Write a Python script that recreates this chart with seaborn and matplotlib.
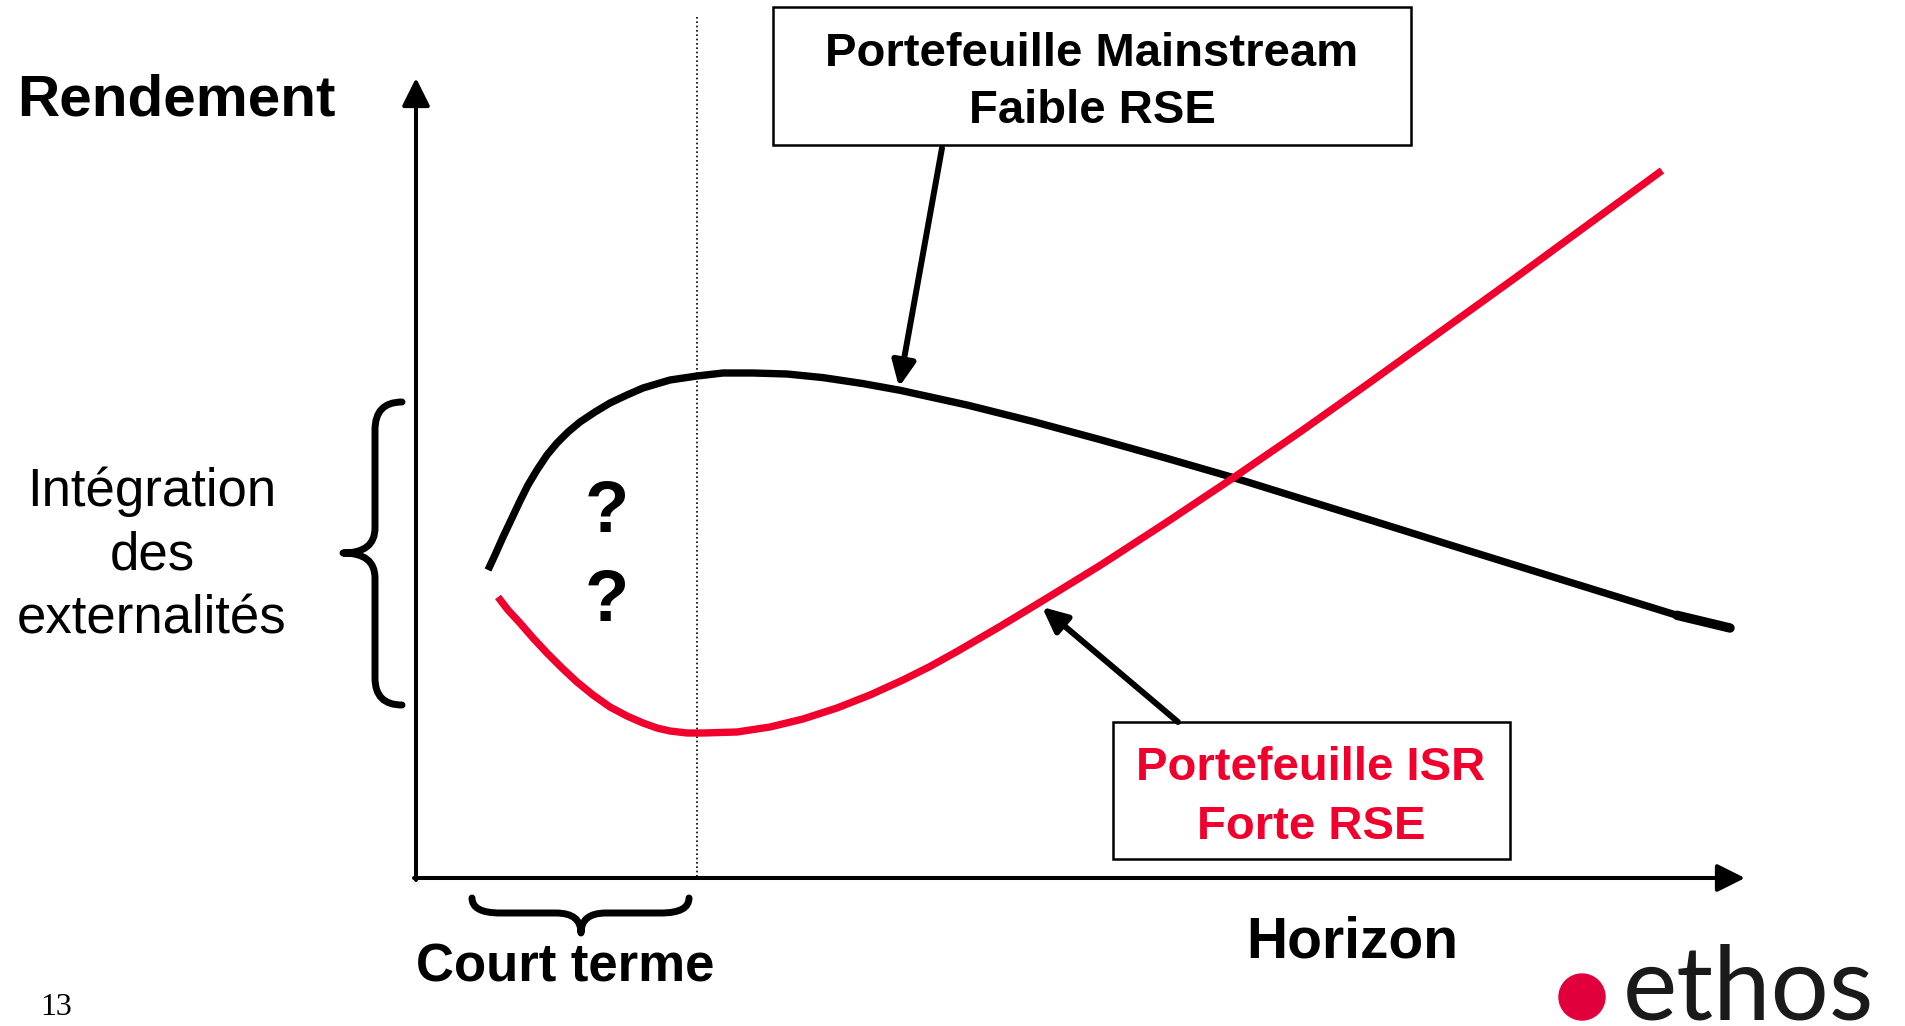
import numpy as np
import pandas as pd
import seaborn as sns
import matplotlib.pyplot as plt
from matplotlib.path import Path
from matplotlib.patches import PathPatch, Rectangle, Circle

# curves (pixel space, y down)
black_x = [488, 495, 503, 512, 520, 528, 537, 547, 557, 568, 580, 595, 610, 627, 643, 670,
           697, 723, 753, 787, 823, 863, 900, 967, 1033, 1100, 1167, 1233, 1300, 1367,
           1447, 1513, 1580, 1677, 1730]
black_y = [570, 555, 537, 518, 501, 485, 470, 455, 443, 432, 422, 412, 403, 395, 388, 380,
           376, 373, 373, 374, 377.6, 383.6, 390.3, 405, 421.5, 439.6, 458.4, 477.5, 498.3,
           519, 544, 564.5, 585.3, 615.3, 628]

red_x = [498, 508, 520, 533, 547, 562, 577, 593, 610, 627, 643, 657, 670, 687, 703, 737,
         770, 803, 837, 870, 903, 930, 957, 1000, 1043, 1100, 1167, 1233, 1300, 1367,
         1447, 1513, 1580, 1662]
red_y = [597, 610, 623, 638, 653, 668, 682, 695, 707, 716, 723, 728, 731, 733, 733, 732,
         727, 719, 708, 695, 680, 666.5, 651.5, 626.5, 600.5, 565.5, 522, 478, 432, 384.5,
         327, 279.5, 230.5, 170.5]

box_top_lines = ["Portefeuille Mainstream", "Faible RSE"]
box_bottom_lines = ["Portefeuille ISR", "Forte RSE"]
side_lines = ["Intégration", "des", "externalités"]

RED = "#F2002D"

sns.set_theme(style="white")
plt.rcParams['font.family'] = ['Liberation Sans', 'DejaVu Sans']
plt.rcParams['text.color'] = 'black'

fig = plt.figure(figsize=(19.06, 10.26), dpi=100)
ax = fig.add_axes([0, 0, 1, 1])
ax.set_xlim(0, 1906)
ax.set_ylim(1026, 0)
ax.axis('off')

df_black = pd.DataFrame({'x': black_x, 'y': black_y})
df_red = pd.DataFrame({'x': red_x, 'y': red_y})

# dotted separator
ax.plot([697, 697], [17, 878], color='black', lw=1.2, ls=(0, (1, 1.6)))

n0 = len(ax.lines)
sns.lineplot(data=df_black, x='x', y='y', sort=False, estimator=None, ax=ax, color='black')
sns.lineplot(data=df_red, x='x', y='y', sort=False, estimator=None, ax=ax, color=RED)
for ln in ax.lines[n0:]:
    ln.set_linewidth(5.3)
    ln.set_solid_capstyle('butt')
    ln.set_solid_joinstyle('round')

# thick tail at the end of the black curve
ax.plot(black_x[-2:], black_y[-2:], color='black', lw=6.8, solid_capstyle='round')

# axes with arrow heads
axis_style = '-|>,head_length=17,head_width=8.5'
ax.annotate('', xy=(416, 78), xytext=(416, 880),
            arrowprops=dict(arrowstyle=axis_style, mutation_scale=1, lw=2.9,
                            color='black', shrinkA=0, shrinkB=0))
ax.annotate('', xy=(1745, 878), xytext=(414, 878),
            arrowprops=dict(arrowstyle=axis_style, mutation_scale=1, lw=2.9,
                            color='black', shrinkA=0, shrinkB=0))

# braces
def brace(verts, codes):
    ax.add_patch(PathPatch(Path(verts, codes), fill=False, lw=5, color='black',
                           capstyle='round', joinstyle='round'))

M, L, C = Path.MOVETO, Path.LINETO, Path.CURVE3
brace([(402, 402), (375, 402), (375, 430), (375, 528), (375, 553), (343, 553),
       (375, 553), (375, 578), (375, 678), (375, 705), (402, 705)],
      [M, C, C, L, C, C, C, C, L, C, C])
brace([(472, 898), (472, 913), (500, 913), (556, 913), (581, 913), (581, 933),
       (581, 913), (606, 913), (661, 913), (689, 913), (689, 898)],
      [M, C, C, L, C, C, C, C, L, C, C])

# label boxes
ax.add_patch(Rectangle((773, 7), 638, 138, fill=True, facecolor='white',
                       edgecolor='black', lw=1.8, zorder=3))
ax.add_patch(Rectangle((1113, 722), 397, 137, fill=True, facecolor='white',
                       edgecolor='black', lw=1.8, zorder=3))
ax.text(1092, 66, box_top_lines[0], fontsize=34, fontweight='bold', ha='center',
        va='baseline', zorder=4)
ax.text(1092, 123, box_top_lines[1], fontsize=34, fontweight='bold', ha='center',
        va='baseline', zorder=4)
ax.text(1311, 780, box_bottom_lines[0], fontsize=34, fontweight='bold', ha='center',
        va='baseline', color=RED, zorder=4)
ax.text(1311, 839, box_bottom_lines[1], fontsize=34, fontweight='bold', ha='center',
        va='baseline', color=RED, zorder=4)

pointer_style = '-|>,head_length=15,head_width=7'
ax.annotate('', xy=(899, 387), xytext=(942, 148),
            arrowprops=dict(arrowstyle=pointer_style, mutation_scale=1, lw=4.3,
                            color='black', shrinkA=0, shrinkB=0))
ax.annotate('', xy=(1042, 607), xytext=(1178, 722),
            arrowprops=dict(arrowstyle=pointer_style, mutation_scale=1, lw=4.3,
                            color='black', shrinkA=0, shrinkB=0))

# labels
ax.text(17, 116, "Rendement", fontsize=42, fontweight='bold', ha='left', va='baseline')
ax.text(1352, 957, "Horizon", fontsize=41, fontweight='bold', ha='center', va='baseline')
ax.text(565, 982, "Court terme", fontsize=38, fontweight='bold', ha='center', va='baseline')
for line, yb in zip(side_lines, [506, 569, 633]):
    ax.text(152, yb, line, fontsize=38, ha='center', va='baseline')
ax.text(607, 532, "?", fontsize=52, fontweight='bold', ha='center', va='baseline')
ax.text(607, 621, "?", fontsize=52, fontweight='bold', ha='center', va='baseline')

ax.text(56, 1015, "13", fontsize=23, family=['Liberation Serif', 'DejaVu Serif'],
        ha='center', va='baseline')

# ethos logo
ax.add_patch(Circle((1582, 997), 23, color='#E2003C'))
ax.text(1623, 1019, "ethos", fontsize=74, family=['Lato', 'DejaVu Sans'],
        fontweight='normal', color='#1a1a1a', ha='left', va='baseline')

fig.savefig('out.png', dpi=100)
